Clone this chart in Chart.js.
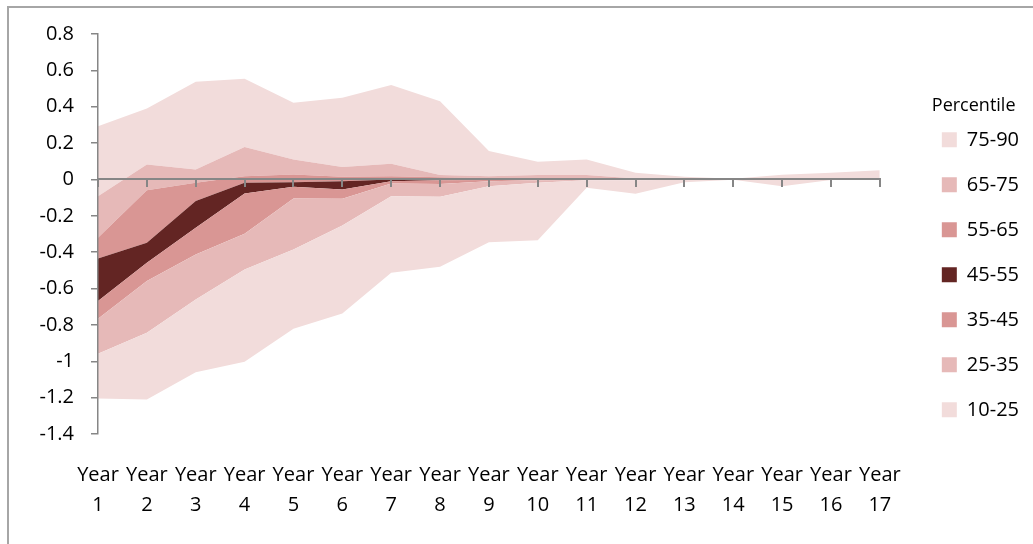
<!DOCTYPE html>
<html>
<head>
<meta charset="utf-8">
<script src="https://cdn.jsdelivr.net/npm/chart.js@4.4.0/dist/chart.umd.min.js"></script>
<style>
  html, body { margin: 0; padding: 0; background: #fff; overflow: hidden; }
  #frame { position: absolute; left: 7px; top: 6px; width: 1100px; height: 600px;
           border-left: 2px solid #a6a6a6; border-top: 2px solid #a6a6a6; }
  #wrap { position: absolute; left: 0; top: 0; width: 1033px; height: 544px; }
</style>
</head>
<body>
<div id="frame"></div>
<div id="wrap"><canvas id="fan-chart"></canvas></div>
<script>
// x categories
const years = ['1', '2', '3', '4', '5', '6', '7', '8', '9', '10', '11', '12', '13', '14', '15', '16', '17'];

// percentile boundaries, one value per year
const p10 = [-1.205, -1.21, -1.06, -1.003, -0.821, -0.737, -0.513, -0.48, -0.345, -0.335, -0.046, -0.079, -0.015, -0.002, -0.037, -0.003, 0];
const p25 = [-0.959, -0.843, -0.66, -0.495, -0.385, -0.253, -0.092, -0.095, -0.037, -0.018, -0.005, -0.004, -0.002, 0, -0.002, 0, 0];
const p35 = [-0.766, -0.559, -0.413, -0.299, -0.105, -0.106, -0.022, -0.025, -0.01, -0.005, -0.003, -0.002, -0.001, 0, -0.001, 0, 0];
const p45 = [-0.669, -0.458, -0.266, -0.077, -0.04, -0.055, -0.01, -0.005, -0.003, -0.002, -0.001, 0, 0, 0, 0, 0, 0];
const p55 = [-0.435, -0.348, -0.119, -0.018, -0.015, -0.01, 0, 0.003, 0.002, 0.001, 0.001, 0, 0, 0, 0, 0, 0];
const p65 = [-0.32, -0.059, -0.018, 0.018, 0.027, 0.015, 0.018, 0.012, 0.008, 0.006, 0.005, 0.002, 0.001, 0.001, 0.001, 0.001, 0.001];
const p75 = [-0.092, 0.082, 0.055, 0.178, 0.11, 0.068, 0.086, 0.024, 0.018, 0.024, 0.025, 0.005, 0.003, 0.002, 0.004, 0.003, 0.002];
const p90 = [0.293, 0.39, 0.537, 0.554, 0.422, 0.449, 0.519, 0.43, 0.156, 0.097, 0.11, 0.037, 0.015, 0.004, 0.026, 0.037, 0.05];

const bandNames = ['10-25', '25-35', '35-45', '45-55', '55-65', '65-75', '75-90'];
const bandTops = [p25, p35, p45, p55, p65, p75, p90];

// band colours, light on the outside, dark in the middle
const bandColors = ['#F2DCDB', '#E6B9B8', '#D99694', '#632523', '#D99694', '#E6B9B8', '#F2DCDB'];

const FONT = "'Open Sans', sans-serif";
const AXIS = '#868686';

// base line (p10) is invisible, each band fills down to the previous line
const datasets = [{
  label: 'base',
  data: p10,
  xAxisID: 'x',
  fill: false,
  borderWidth: 0,
  borderColor: 'transparent',
  pointRadius: 0
}];
bandNames.forEach((name, i) => {
  datasets.push({
    label: name,
    data: bandTops[i],
    xAxisID: 'x',
    fill: '-1',
    backgroundColor: bandColors[i],
    borderColor: 'transparent',
    borderWidth: 0,
    pointRadius: 0,
    tension: 0
  });
});

new Chart(document.querySelector('#fan-chart').getContext('2d'), {
  type: 'line',
  data: {
    labels: years.map(y => ['Year', y]),
    datasets: datasets
  },
  options: {
    responsive: true,
    maintainAspectRatio: false,
    animation: false,
    events: [],
    layout: { padding: { top: 34, bottom: 24, left: 0, right: 4 } },
    scales: {
      x: {
        type: 'category',
        position: 'bottom',
        grid: { display: false, drawTicks: false },
        border: { display: false },
        ticks: { autoSkip: false, maxRotation: 0, padding: 26, color: '#000',
                 font: { family: FONT, size: 20, lineHeight: 1.5 } },
        afterFit: s => { s.height = 86; }
      },
      // zero line with the tick marks hanging off it, drawn over the bands
      xzero: {
        type: 'category',
        position: { y: 0 },
        grid: { drawOnChartArea: false, drawTicks: true, tickLength: 7, color: AXIS, lineWidth: 2, z: 1 },
        border: { color: AXIS, width: 2, z: 1 },
        ticks: { display: false }
      },
      y: {
        min: -1.4,
        max: 0.8,
        grid: { drawOnChartArea: false, drawTicks: true, tickLength: 7, color: AXIS, lineWidth: 1.5 },
        border: { color: AXIS, width: 1.5, z: 1 },
        ticks: {
          stepSize: 0.2, padding: 17, color: '#000',
          font: { family: FONT, size: 20 },
          callback: v => String(parseFloat(v.toFixed(1)))
        },
        afterFit: s => { s.width = 98; }
      },
      // empty gap between plot and legend
      gap: {
        type: 'linear',
        position: 'right',
        grid: { display: false },
        border: { display: false },
        ticks: { display: false },
        afterFit: s => { s.width = 52; }
      }
    },
    plugins: {
      tooltip: { enabled: false },
      legend: {
        position: 'right',
        reverse: true,
        title: { display: true, text: 'Percentile', color: '#000', position: 'start',
                 font: { family: FONT, size: 18 }, padding: { top: -12, bottom: 1 } },
        labels: {
          boxWidth: 15,
          boxHeight: 15,
          padding: 10,
          color: '#000',
          font: { family: FONT, size: 20, lineHeight: 1.75 },
          generateLabels: chart => Chart.defaults.plugins.legend.labels.generateLabels(chart)
            .filter(item => item.datasetIndex > 0)
            .map(item => Object.assign(item, { text: [item.text], lineWidth: 0 }))
        }
      }
    }
  }
});
</script>
</body>
</html>
